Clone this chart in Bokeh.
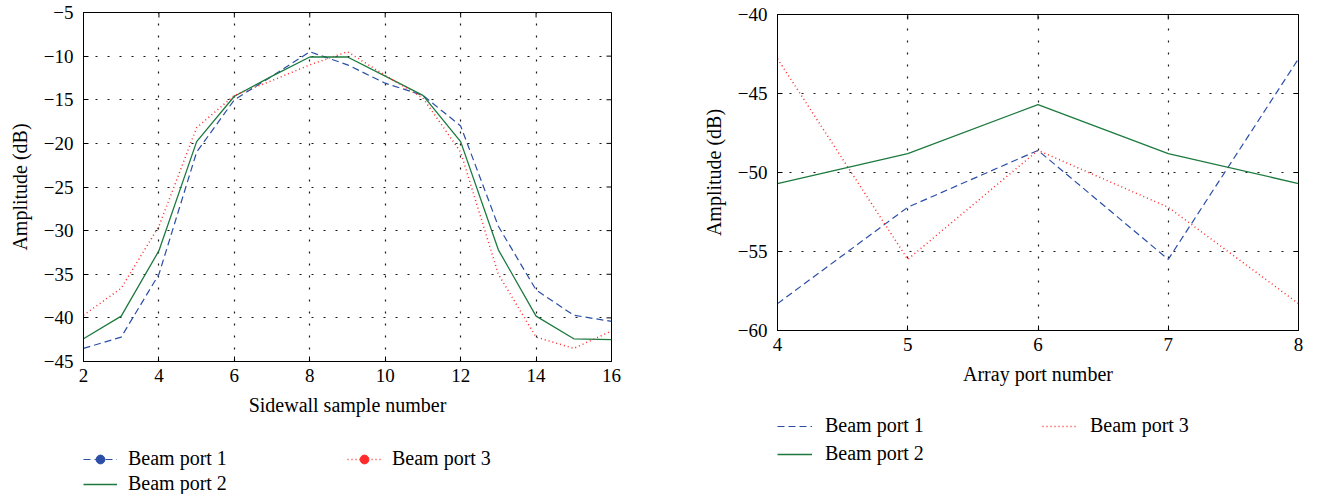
import math
from bokeh.plotting import figure
from bokeh.layouts import row, column
from bokeh.models import Range1d, FixedTicker, Legend, LegendItem
from bokeh.embed import file_html
from bokeh.resources import INLINE

# ---------------- data ----------------
sidewall_x = [2, 3, 4, 5, 6, 7, 8, 9, 10, 11, 12, 13, 14, 15, 16]
sw_beam1 = [-43.5, -42.2, -35.0, -21.0, -15.0, -12.3, -9.5, -11.0, -13.1, -14.5, -18.0, -29.5, -36.8, -39.7, -40.4]
sw_beam2 = [-42.4, -39.8, -32.3, -19.8, -14.6, -12.3, -10.1, -10.1, -12.3, -14.5, -19.8, -32.2, -39.8, -42.4, -42.5]
sw_beam3 = [-39.7, -36.6, -29.5, -18.2, -14.5, -12.8, -11.0, -9.5, -12.2, -14.8, -21.0, -35.0, -42.2, -43.5, -41.5]

array_x = [4, 5, 6, 7, 8]
ar_beam1 = [-58.3, -52.2, -48.6, -55.5, -42.8]
ar_beam2 = [-50.7, -48.8, -45.7, -48.8, -50.7]
ar_beam3 = [-42.8, -55.5, -48.6, -52.2, -58.3]

left_xticks = [2, 4, 6, 8, 10, 12, 14, 16]
left_yticks = [-45, -40, -35, -30, -25, -20, -15, -10, -5]
right_xticks = [4, 5, 6, 7, 8]
right_yticks = [-60, -55, -50, -45, -40]

series_names = ["Beam port 1", "Beam port 2", "Beam port 3"]

# ---------------- style ----------------
FONT = "Liberation Serif"
BLUE = "#2b4ea6"
GREEN = "#1c7a3e"
RED = "#ff2a2a"
STYLES = [dict(line_color=BLUE, line_width=1.2, line_dash="7 4"),
          dict(line_color=GREEN, line_width=1.3),
          dict(line_color=RED, line_width=1.5, line_dash="1 3")]


def minus(v):
    return ("\u2212" + str(abs(v))) if v < 0 else str(v)


def style_axes(p, xticks, yticks):
    for ax in (p.xaxis[0], p.yaxis[0]):
        ax.major_tick_in = 5
        ax.major_tick_out = 0
        ax.minor_tick_line_color = None
        ax.axis_line_color = "black"
        ax.major_tick_line_color = "black"
        ax.major_label_text_font = FONT
        ax.major_label_text_font_size = "19px"
        ax.major_label_text_color = "black"
        ax.axis_label_text_font = FONT
        ax.axis_label_text_font_size = "20px"
        ax.axis_label_text_font_style = "normal"
        ax.axis_label_text_color = "black"
    p.xaxis[0].ticker = FixedTicker(ticks=xticks)
    p.yaxis[0].ticker = FixedTicker(ticks=yticks)
    p.xaxis[0].major_label_overrides = {t: minus(t) for t in xticks}
    p.yaxis[0].major_label_overrides = {t: minus(t) for t in yticks}
    p.xaxis[0].major_label_standoff = 7
    p.yaxis[0].major_label_standoff = 10
    p.xaxis[0].axis_label_standoff = 9
    p.yaxis[0].axis_label_standoff = 10
    p.grid.grid_line_color = "black"
    p.grid.grid_line_dash = "2 10"
    p.grid.grid_line_width = 1.2
    p.grid.grid_line_alpha = 0.9
    p.xgrid.ticker = FixedTicker(ticks=xticks)
    p.ygrid.ticker = FixedTicker(ticks=yticks)
    p.outline_line_color = "black"
    p.outline_line_alpha = 1.0
    p.background_fill_color = "white"
    p.border_fill_color = "white"
    # inward tick marks on the top and right frame edges (clipped to the frame)
    xe = p.x_range.end
    ye = p.y_range.end
    p.scatter(xticks, [ye] * len(xticks), marker="dash", angle=math.pi / 2, size=10,
              line_color="black", line_width=1)
    p.scatter([xe] * len(yticks), yticks, marker="dash", size=10,
              line_color="black", line_width=1)


def legend_figure(width, height, left, xs, series, markers, glyph_width, label_standoff,
                  label_width, spacing):
    # legend-only strip: the series are drawn far outside its (empty) view window,
    # so only the legend entries are visible
    f = figure(width=width, height=height, output_backend="svg", toolbar_location=None,
               x_range=Range1d(1000, 1001), y_range=Range1d(1000, 1001),
               x_axis_location=None, y_axis_location=None,
               min_border_left=left, min_border_right=0, min_border_top=0, min_border_bottom=0)
    f.grid.visible = False
    f.outline_line_color = None
    f.background_fill_color = "white"
    f.border_fill_color = "white"
    items = []
    for name, ys, st, mk in zip(series_names, series, STYLES, markers):
        rs = [f.line(xs, ys, **st)]
        if mk:
            rs.append(f.scatter(xs, ys, marker="circle", size=6,
                                fill_color=st["line_color"], line_color=st["line_color"]))
        items.append(LegendItem(label=name, renderers=rs))
    leg = Legend(items=items, location="top_left", nrows=2, orientation="vertical",
                 glyph_width=glyph_width, glyph_height=22, label_height=22, label_width=label_width,
                 label_standoff=label_standoff, spacing=spacing, padding=0, margin=0,
                 label_text_font=FONT, label_text_font_size="20px", label_text_color="black",
                 border_line_color=None, background_fill_alpha=0)
    f.add_layout(leg, "center")
    return f


# ---------------- left figure ----------------
p1 = figure(frame_width=528, frame_height=349, output_backend="svg", toolbar_location=None,
            x_range=Range1d(2, 16), y_range=Range1d(-45, -5),
            min_border_left=83, min_border_right=49, min_border_top=12, min_border_bottom=86,
            x_axis_label="Sidewall sample number", y_axis_label="Amplitude (dB)")
style_axes(p1, left_xticks, left_yticks)
p1.line(sidewall_x, sw_beam1, **STYLES[0])
p1.line(sidewall_x, sw_beam2, **STYLES[1])
p1.line(sidewall_x, sw_beam3, **STYLES[2])
lf1 = legend_figure(660, 47, 83, sidewall_x, [sw_beam1, sw_beam2, sw_beam3],
                    [True, False, True], 34, 11, 217, 2)

# ---------------- right figure ----------------
p2 = figure(frame_width=521, frame_height=316, output_backend="svg", toolbar_location=None,
            x_range=Range1d(4, 8), y_range=Range1d(-60, -40),
            min_border_left=117, min_border_right=18, min_border_top=14, min_border_bottom=84,
            x_axis_label="Array port number", y_axis_label="Amplitude (dB)")
style_axes(p2, right_xticks, right_yticks)
p2.line(array_x, ar_beam1, **STYLES[0])
p2.line(array_x, ar_beam2, **STYLES[1])
p2.line(array_x, ar_beam3, **STYLES[2])
lf2 = legend_figure(656, 80, 116, array_x, [ar_beam1, ar_beam2, ar_beam3],
                    [False, False, False], 35, 13, 212, 5)

layout = row(column(p1, lf1, spacing=0), column(p2, lf2, spacing=0), spacing=0)
open("out.html", "w").write(file_html(layout, INLINE))
